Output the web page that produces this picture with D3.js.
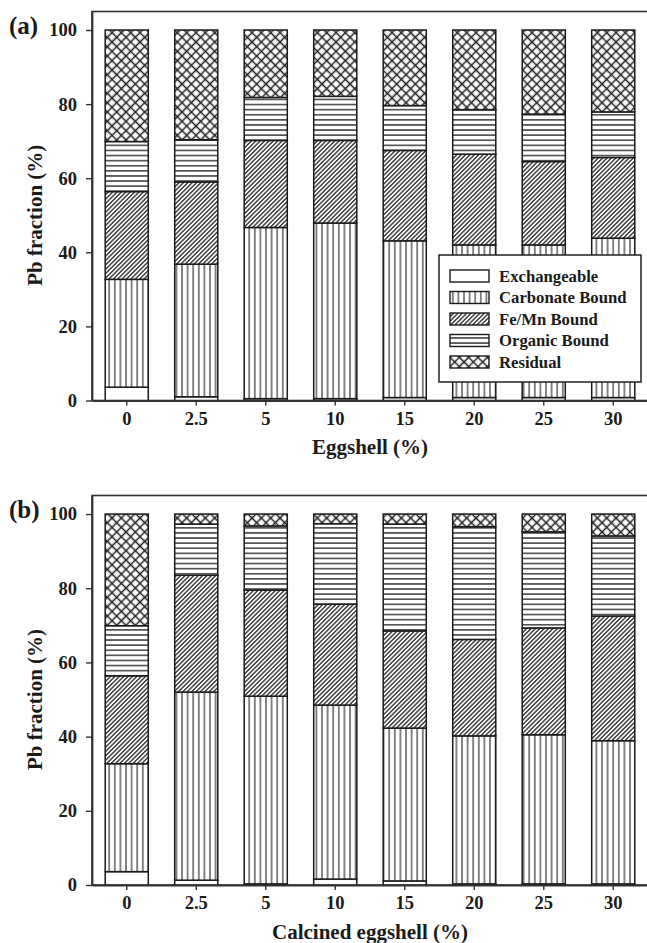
<!DOCTYPE html>
<html>
<head>
<meta charset="utf-8">
<script src="https://cdn.jsdelivr.net/npm/d3@7"></script>
<style>
  body { margin: 0; background: #fff; }
  text { font-family: "Liberation Serif", "Times New Roman", serif; font-weight: bold; fill: #1a1a1a; }
</style>
</head>
<body>
<div id="chart"></div>
<script>
// categories (x axis) and fractions (stack order bottom -> top)
const doses = ['0', '2.5', '5', '10', '15', '20', '25', '30'];
const fractions = ['Exchangeable', 'Carbonate Bound', 'Fe/Mn Bound', 'Organic Bound', 'Residual'];
const yTicks = [0, 20, 40, 60, 80, 100];

// (a) Eggshell
const eggExchangeable = [3.6, 1.0, 0.5, 0.5, 0.8, 0.8, 0.8, 0.8];
const eggCarbonate    = [29.1, 35.8, 46.2, 47.4, 42.3, 41.2, 41.2, 43.0];
const eggFeMn         = [23.7, 22.2, 23.5, 22.3, 24.4, 24.5, 22.5, 21.8];
const eggOrganic      = [13.5, 11.4, 11.6, 11.9, 12.1, 12.0, 12.8, 12.3];
const eggResidual     = [30.1, 29.6, 18.2, 17.9, 20.4, 21.5, 22.7, 22.1];

// (b) Calcined eggshell
const calExchangeable = [3.6, 1.3, 0.3, 1.6, 1.1, 0.3, 0.3, 0.3];
const calCarbonate    = [29.1, 50.7, 50.6, 46.9, 41.2, 39.9, 40.2, 38.6];
const calFeMn         = [23.7, 31.5, 28.6, 27.2, 26.2, 26.0, 28.8, 33.6];
const calOrganic      = [13.5, 13.8, 17.3, 21.7, 28.8, 30.4, 25.9, 21.6];
const calResidual     = [30.1, 2.7, 3.2, 2.6, 2.7, 3.4, 4.8, 5.9];

function toRows(series) {
    return doses.map((d, i) => {
        const row = { dose: d };
        fractions.forEach((f, k) => { row[f] = series[k][i]; });
        return row;
    });
}

const width = 647, height = 943;
const svg = d3.select('#chart').append('svg').attr('width', width).attr('height', height);

// hatch patterns, one per fraction
const defs = svg.append('defs');
function hatch(id, size, angle, lines) {
    const p = defs.append('pattern').attr('id', id)
        .attr('patternUnits', 'userSpaceOnUse')
        .attr('width', size).attr('height', size)
        .attr('patternTransform', `rotate(${angle})`);
    p.append('rect').attr('width', size).attr('height', size).attr('fill', '#fff');
    lines.forEach(l => p.append('line')
        .attr('x1', l[0]).attr('y1', l[1]).attr('x2', l[2]).attr('y2', l[3])
        .attr('stroke', '#222').attr('stroke-width', l[4]));
}
hatch('pVert', 5.6, 0, [[2.8, 0, 2.8, 5.6, 1.1]]);
hatch('pDiag', 3.1, 45, [[1.55, 0, 1.55, 3.1, 1.3]]);
hatch('pHoriz', 5.1, 0, [[0, 2.55, 5.1, 2.55, 1.3]]);
hatch('pCross', 6.6, 45, [[3.3, 0, 3.3, 6.6, 1.5], [0, 3.3, 6.6, 3.3, 1.5]]);

const fill = d3.scaleOrdinal().domain(fractions)
    .range(['#fff', 'url(#pVert)', 'url(#pDiag)', 'url(#pHoriz)', 'url(#pCross)']);

const x = d3.scaleBand().domain(doses).range([92, 648]).paddingInner(0.38).paddingOuter(0.19);

function drawPanel(series, top, bottom, label, xTitle, legend) {
    const rows = toRows(series);
    const y = d3.scaleLinear().domain([0, 105]).range([bottom, top]);
    const g = svg.append('g');

    // frame
    g.append('rect').attr('x', 92).attr('y', y(105))
        .attr('width', 556).attr('height', y(0) - y(105))
        .attr('fill', 'none').attr('stroke', '#333').attr('stroke-width', 1.6);

    // stacked bars
    const stacked = d3.stack().keys(fractions)(rows);
    g.append('g').selectAll('g').data(stacked).join('g')
        .attr('fill', d => fill(d.key))
        .selectAll('rect').data(d => d).join('rect')
        .attr('x', d => x(d.data.dose))
        .attr('y', d => y(d[1]))
        .attr('width', x.bandwidth())
        .attr('height', d => y(d[0]) - y(d[1]))
        .attr('stroke', '#1a1a1a').attr('stroke-width', 1.5);

    // axes
    const yAxis = g.append('g').attr('transform', 'translate(92,0)')
        .call(d3.axisLeft(y).tickValues(yTicks).tickSize(6).tickSizeOuter(0).tickPadding(9));
    const xAxis = g.append('g').attr('transform', `translate(0,${y(0)})`)
        .call(d3.axisBottom(x).tickSize(5).tickSizeOuter(0).tickPadding(6));
    [yAxis, xAxis].forEach(a => {
        a.select('.domain').attr('stroke', '#333').attr('stroke-width', 1.8);
        a.selectAll('.tick line').attr('stroke', '#333').attr('stroke-width', 1.4);
        a.selectAll('.tick text').attr('font-family', null).attr('font-size', '18.5px').attr('fill', '#1a1a1a');
    });

    // titles
    g.append('text').attr('x', 370).attr('y', y(0) + 53.5)
        .attr('text-anchor', 'middle').attr('font-size', '21px').text(xTitle);
    g.append('text').attr('transform', `translate(42,${(y(0) + y(100)) / 2}) rotate(-90)`)
        .attr('text-anchor', 'middle').attr('font-size', '21px').text('Pb fraction (%)');
    g.append('text').attr('x', 9).attr('y', y(105) + 22)
        .attr('font-size', '25px').text(label);

    if (legend) {
        const lg = g.append('g').attr('transform', 'translate(439,255)');
        lg.append('rect').attr('width', 202).attr('height', 127)
            .attr('fill', '#fff').attr('stroke', '#222').attr('stroke-width', 1.5);
        const item = lg.selectAll('g.item').data(fractions).join('g')
            .attr('class', 'item')
            .attr('transform', (d, i) => `translate(11,${21 + i * 21.5})`);
        item.append('rect').attr('y', -6).attr('width', 39).attr('height', 12)
            .attr('fill', d => fill(d)).attr('stroke', '#1a1a1a').attr('stroke-width', 1.4);
        item.append('text').attr('x', 49).attr('dy', '0.35em')
            .attr('font-size', '16.7px').text(d => d);
    }
}

drawPanel([eggExchangeable, eggCarbonate, eggFeMn, eggOrganic, eggResidual],
    11.5, 400.5, '(a)', 'Eggshell (%)', true);
drawPanel([calExchangeable, calCarbonate, calFeMn, calOrganic, calResidual],
    495.5, 885, '(b)', 'Calcined eggshell (%)', false);
</script>
</body>
</html>
